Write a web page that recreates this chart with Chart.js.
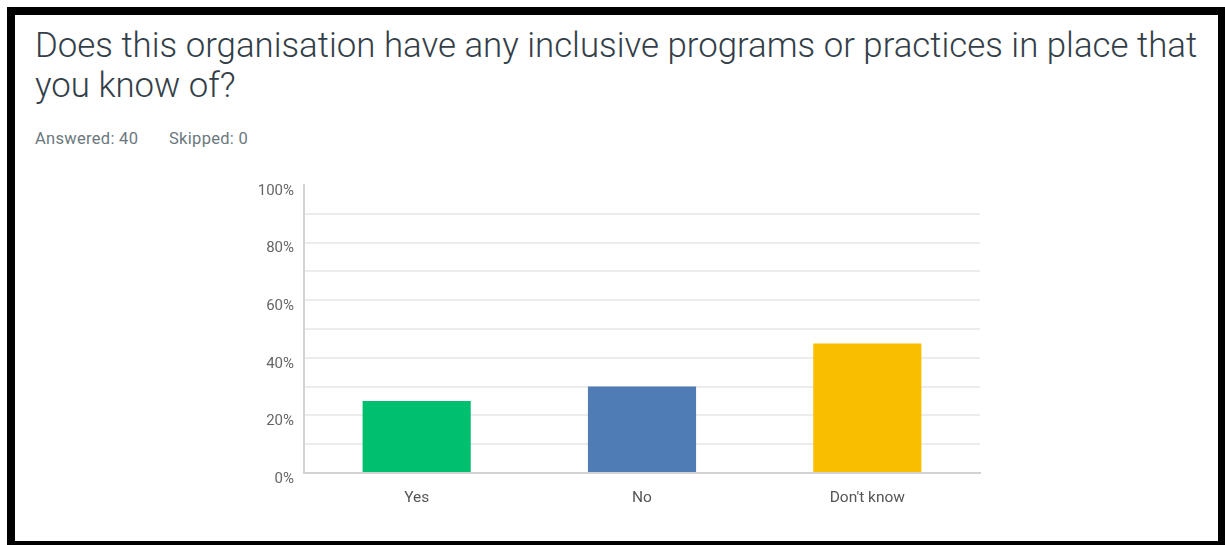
<!DOCTYPE html>
<html>
<head>
<meta charset="utf-8">
<script src="https://cdn.jsdelivr.net/npm/chart.js@4.4.1/dist/chart.umd.min.js"></script>
<style>
  html, body { margin: 0; padding: 0; background: #fff; width: 1225px; height: 545px; overflow: hidden; position: relative; }
  #frame { position: absolute; left: 7px; top: 7px; width: 1203px; height: 526px; border: 8px solid #000; }
  #title { position: absolute; left: 35px; top: 25px; font-family: Roboto, sans-serif; font-weight: 300; font-size: 34.8px; line-height: 40px; color: #333e48; white-space: nowrap; }
  .sub { position: absolute; top: 129px; font-family: Roboto, sans-serif; font-size: 16.5px; letter-spacing: 0.3px; color: #6b787f; white-space: nowrap; }
  #wrap { position: absolute; left: 230px; top: 166px; width: 760px; height: 349px; }
</style>
</head>
<body>
<div id="frame"></div>
<div id="title">Does this organisation have any inclusive programs or practices in place that<br>you know of?</div>
<div class="sub" style="left:35px">Answered: 40</div>
<div class="sub" style="left:169px">Skipped: 0</div>
<div id="wrap"><canvas id="c" width="760" height="349"></canvas></div>
<script>
const categories = ["Yes", "No", "Don't know"];
const percentValues = [25, 30, 45];
const barColors = ["#00BF6F", "#507CB6", "#F9BE00"];
const yTickLabels = ["0%", "20%", "40%", "60%", "80%", "100%"];

new Chart(document.getElementById('c'), {
  type: 'bar',
  data: {
    labels: categories,
    datasets: [{ data: percentValues, backgroundColor: barColors, categoryPercentage: 1, barPercentage: 0.48 }]
  },
  options: {
    responsive: false,
    animation: false,
    maintainAspectRatio: false,
    layout: { padding: { top: 8, right: 10, left: 0, bottom: 0 } },
    plugins: { legend: { display: false }, tooltip: { enabled: false } },
    scales: {
      x: {
        grid: { display: false, drawTicks: false },
        border: { display: true, color: '#d3d3d3', width: 2 },
        ticks: { color: '#555', font: { family: 'Roboto', size: 15.5 }, padding: 16 },
        afterFit(s) { s.height = 42; }
      },
      y: {
        min: 0, max: 100,
        ticks: {
          stepSize: 10,
          padding: 10,
          labelOffset: 6,
          color: '#666',
          font: { family: 'Roboto', size: 15 },
          callback(v) { return v % 20 === 0 ? yTickLabels[v / 20] : ''; }
        },
        grid: {
          drawTicks: false,
          color(ctx) { return (ctx.tick && (ctx.tick.value === 100 || ctx.tick.value === 0)) ? 'rgba(0,0,0,0)' : '#ececec'; },
          lineWidth: 2
        },
        border: { display: true, color: '#d3d3d3', width: 2 },
        afterFit(s) { s.width = 74; }
      }
    }
  }
});
</script>
</body>
</html>
